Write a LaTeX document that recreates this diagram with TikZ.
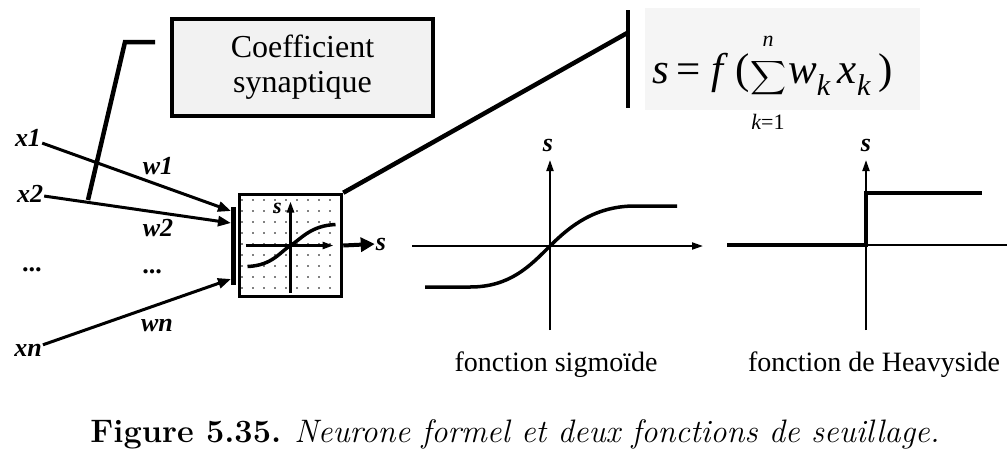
\documentclass[tikz,border=0pt]{standalone}
\usepackage{fontspec}
\newfontfamily\timesfont{Liberation Serif}
\usetikzlibrary{positioning, arrows.meta, calc, patterns.meta}

\begin{document}
\begin{tikzpicture}[
    x=1pt, y=-1pt,
    lbl/.style={font=\timesfont\bfseries\itshape\fontsize{26}{28}\selectfont, inner sep=1pt},
    fnlbl/.style={font=\timesfont\fontsize{28}{30}\selectfont, inner sep=0pt},
    fml/.style={font=\timesfont\fontsize{43}{46}\selectfont, inner sep=0pt},
    lim/.style={font=\timesfont\itshape\fontsize{22}{24}\selectfont, inner sep=0pt},
    coefbox/.style={draw, line width=4.5pt, fill=black!5, minimum width=261pt,
                    minimum height=97pt, align=center,
                    font=\timesfont\fontsize{32}{35}\selectfont},
    cellbox/.style={draw, line width=3.5pt, minimum size=102pt,
                    pattern={Dots[distance=11pt, radius=0.9pt]}},
    wire/.style={line width=3pt, -{Triangle[length=13pt, width=10pt]}},
    bar/.style={line width=4.5pt},
    axis/.style={line width=2pt, -{Triangle[length=11pt, width=7pt]}},
    curve/.style={line width=3.5pt},
  ]
  \useasboundingbox (0,0) rectangle (1007,475);

  % coefficient synaptique and formula
  \node[coefbox] (coef) at (302.5,67.5) {Coefficient\\synaptique};
  \node[fill=black!4, minimum width=275pt, minimum height=102pt] (fbg) at (782.5,59) {};
  \node[fml, anchor=base west] (fs) at (652,83)
    {\itshape s\/\upshape\hspace{8pt}=\hspace{10pt}\itshape f\/\upshape\,(};
  \node[inner sep=0pt] (fsum) at (768.5,78) {\resizebox*{36pt}{38pt}{$\displaystyle\sum$}};
  \node[lim] (fn) at (768,41) {n};
  \node[lim] (fk) at (768,122) {k\upshape=1};
  \node[fml, anchor=base west] (fw) at (788,83)
    {\itshape w\textsubscript{k}\,x\textsubscript{k}\,\upshape)};
  \coordinate (bartop) at (628,10);
  \coordinate (barbot) at (628,108);
  \draw[bar] (bartop) -- (barbot);

  % inputs
  \node[lbl] (x1) at (28,138) {x1};
  \node[lbl] (x2) at (30,194) {x2};
  \node[lbl] (xd) at (33,270) {...};
  \node[lbl] (xn) at (28,350) {xn};
  \node[lbl] (w1) at (158,166) {w1};
  \node[lbl] (w2) at (158,228) {w2};
  \node[lbl] (wd) at (153,272) {...};
  \node[lbl] (wn) at (157,325) {wn};

  \node[fill, minimum width=5pt, minimum height=78pt, inner sep=0pt] (bus) at (233.5,246) {};
  \coordinate (in1) at (231,211);
  \coordinate (in2) at (231,223);
  \coordinate (inn) at (231,279);
  \draw[wire] (x1) -- (in1);
  \draw[wire] (x2) -- (in2);
  \draw[wire] (xn) -- (inn);

  \coordinate (hk1) at (155,42);
  \coordinate (hk2) at (88,200);
  \draw[bar] (hk1) -- (125,42) -- (hk2);

  % neuron
  \node[cellbox] (cell) at (290.5,245.5) {};
  \draw[axis, line width=2.5pt] ($(cell.center)+(-45,0)$) -- ($(cell.center)+(43,0)$);
  \draw[axis, line width=2.5pt] ($(cell.center)+(0,47)$) -- ($(cell.center)+(0,-44)$);
  \node[lbl, font=\timesfont\bfseries\itshape\fontsize{22}{24}\selectfont] (cells) at ($(cell.center)+(-13,-37)$) {s};
  \draw[curve] ($(cell.center)+(-43,21)$) .. controls +(25,-1) and +(-10,6) .. (cell.center)
    .. controls +(10,-6) and +(-25,1) .. ($(cell.center)+(45,-21)$);

  \node[lbl] (sout) at (381,244) {s};
  \draw[line width=4pt, -{Triangle[length=14pt, width=14pt]}] (cell.east) -- (sout.west);
  \draw[bar] (cell.north east) -- ($(bartop)!0.23!(barbot)$);

  % sigmoide
  \coordinate (sgO) at (550,246);
  \draw[axis] ($(sgO)+(-138,0)$) -- ($(sgO)+(153,0)$);
  \draw[axis] ($(sgO)+(0,84)$) -- ($(sgO)+(0,-86)$);
  \node[lbl] (sgs) at ($(sgO)+(-2,-101)$) {s};
  \draw[curve] ($(sgO)+(-125,41)$) -- ($(sgO)+(-80,41)$) .. controls +(40,0) and +(-20,20) .. (sgO)
    .. controls +(20,-20) and +(-40,0) .. ($(sgO)+(85,-40)$) -- ($(sgO)+(127,-40)$);
  \node[fnlbl] (sglbl) at ($(sgO)+(6,119)$) {fonction sigmoïde};

  % heavyside
  \coordinate (hvO) at (866,245);
  \draw[line width=2pt] ($(hvO)+(-139,0)$) -- ($(hvO)+(141,0)$);
  \draw[axis] ($(hvO)+(0,85)$) -- ($(hvO)+(0,-85)$);
  \node[lbl] (hvs) at ($(hvO)+(0,-100)$) {s};
  \draw[curve] ($(hvO)+(-139,0)$) -- (hvO) -- ($(hvO)+(0,-52)$) -- ($(hvO)+(116,-52)$);
  \node[fnlbl] (hvlbl) at ($(hvO)+(8,120)$) {fonction de Heavyside};

  \node[anchor=base, font=\fontsize{32.5}{36}\selectfont] (cap) at (515,442)
    {\textbf{Figure 5.35.} \textit{Neurone formel et deux fonctions de seuillage.}};
\end{tikzpicture}
\end{document}
